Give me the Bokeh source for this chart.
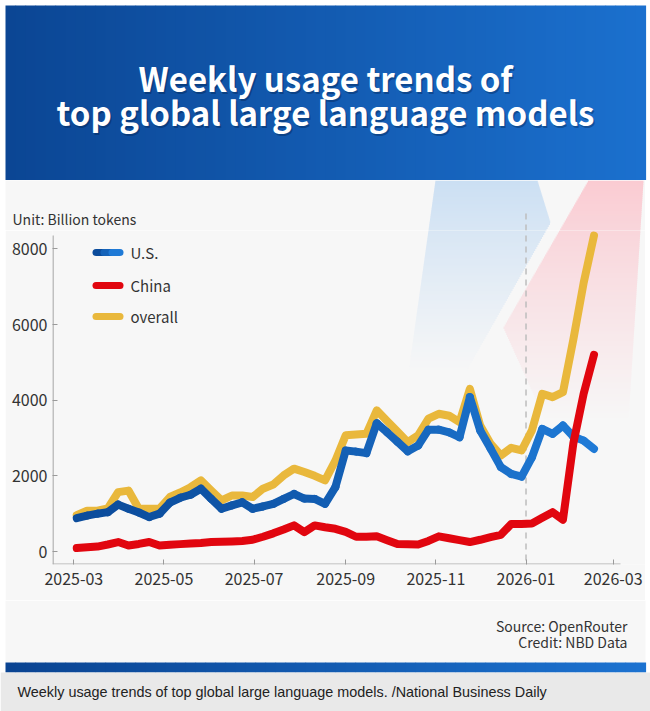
import numpy as np
import pandas as pd
from bokeh.plotting import figure
from bokeh.layouts import column
from bokeh.models import Range1d, FixedTicker, DatetimeTickFormatter
from bokeh.core.properties import value
from bokeh.embed import file_html
from bokeh.resources import INLINE

# ---------------- data (billion tokens per week) ----------------
week_start = "2025-03-03"
n_weeks = 51
us = [880, 950, 1000, 1040, 1240, 1130, 1030, 910, 1000, 1290,
      1420, 1500, 1660, 1390, 1130, 1220, 1300, 1130, 1190, 1260,
      1390, 1520, 1400, 1390, 1260, 1700, 2670, 2640, 2600, 3390,
      3150, 2900, 2650, 2800, 3220, 3220, 3150, 3020, 4080, 3200,
      2720, 2230, 2050, 1980, 2490, 3240, 3110, 3330, 3040, 2930, 2710]
china = [90, 110, 130, 185, 250, 160, 200, 250, 160, 180,
         195, 210, 225, 250, 255, 265, 280, 310, 390, 480,
         580, 690, 510, 690, 640, 600, 520, 390, 390, 400,
         300, 200, 190, 185, 280, 400, 350, 300, 250, 310,
         380, 440, 730, 730, 740, 890, 1040, 840, 2850, 4170, 5200]
overall = [960, 1080, 1080, 1140, 1570, 1610, 1130, 1130, 1130, 1440,
           1560, 1700, 1880, 1610, 1350, 1480, 1480, 1440, 1660, 1770,
           2010, 2190, 2100, 2000, 1880, 2400, 3070, 3090, 3110, 3730,
           3450, 3170, 2890, 3070, 3510, 3640, 3590, 3420, 4300, 3330,
           2850, 2540, 2740, 2670, 3200, 4170, 4080, 4210, 5600, 7100, 8350]
series_names = ["U.S.", "China", "overall"]
y_ticks = [0, 2000, 4000, 6000, 8000]
x_tick_labels = ["2025-03", "2025-05", "2025-07", "2025-09", "2025-11", "2026-01", "2026-03"]
marker_date = "2026-01-01"

title_lines = ["Weekly usage trends of", "top global large language models"]
unit_text = "Unit: Billion tokens"
source_text = "Source: OpenRouter"
credit_text = "Credit: NBD Data"
caption_text = "Weekly usage trends of top global large language models. /National Business Daily"

dates = pd.date_range(week_start, periods=n_weeks, freq="7D")

# ---------------- styling / layout ----------------
FONT = "Noto Sans CJK SC"
BG = "#f7f7f7"
BG_RGB = (247, 247, 247)
YELLOW = "#e9b83c"
RED = "#e1060f"
BLUE_DARK = (11, 76, 156)
BLUE_LIGHT = (31, 122, 214)


def mix(c1, c2, t):
    t = max(0.0, min(1.0, t))
    return "#%02x%02x%02x" % tuple(int(round(a + (b - a) * t)) for a, b in zip(c1, c2))


def ms(ts):
    return (pd.Timestamp(ts) - pd.Timestamp("1970-01-01")).total_seconds() * 1000.0


# page-pixel geometry
STRIP_T = 180           # top of the chart panel
FR_L, FR_R, FR_T, FR_B = 52, 645, 230, 564   # plot frame
T0, X_T0 = pd.Timestamp("2025-03-01"), 73.3
PX_PER_DAY = (612.7 - 73.3) / 365.0
Y0_PX, PX_PER_UNIT = 551.0, 37.83 / 1000.0


def px_to_ms(px):
    return ms(T0 + pd.Timedelta(days=(px - X_T0) / PX_PER_DAY))


x_start, x_end = px_to_ms(FR_L), px_to_ms(FR_R)
y_start = -(FR_B - Y0_PX) / PX_PER_UNIT
y_end = (Y0_PX - FR_T) / PX_PER_UNIT


def plain_fig(w, h, xr, yr, bg, **kw):
    f = figure(width=w, height=h, x_range=Range1d(*xr), y_range=Range1d(*yr),
               x_axis_location=None, y_axis_location=None, output_backend="svg",
               toolbar_location=None, min_border=0, outline_line_color=None,
               background_fill_color=bg, border_fill_color=bg, frame_align=False, **kw)
    f.grid.visible = False
    return f


# ---------------- header ----------------
h = plain_fig(650, 180, (0, 650), (180, 0), "white")
nh = 64
hx = np.linspace(5, 645, nh + 1)
h.quad(left=hx[:-1], right=hx[1:] + 0.6, top=5, bottom=180,
       fill_color=[mix((11, 70, 148), (27, 112, 206), i / (nh - 1)) for i in range(nh)],
       line_color=None)
for dy, txt in zip([77, 111], title_lines):
    h.text(x=[326.5], y=[dy + 2], text=[txt], text_font=value(FONT), text_font_style="bold",
           text_font_size="33px", text_color="#001a40", text_alpha=0.35,
           text_align="center", text_baseline="middle")
    h.text(x=[325], y=[dy], text=[txt], text_font=value(FONT), text_font_style="bold",
           text_font_size="33px", text_color="white", text_align="center", text_baseline="middle")


# ---------------- decorative faded shapes (page pixel coords) ----------------
def span(poly, y):
    xs = []
    n = len(poly)
    for i in range(n):
        (x1, y1), (x2, y2) = poly[i], poly[(i + 1) % n]
        if min(y1, y2) <= y <= max(y1, y2):
            if y1 == y2:
                xs += [x1, x2]
            else:
                xs.append(x1 + (y - y1) * (x2 - x1) / (y2 - y1))
    return min(xs), max(xs)


SHAPES = [([(435, 180), (537, 180), (550, 222), (465, 372), (408, 372)], (203, 223, 243), 180, 372),
          ([(588, 180), (643, 180), (628, 420), (545, 420), (503, 327)], (250, 203, 210), 180, 420)]


def draw_shapes(fig, **rn):
    for poly, c_top, y_top, y_bot in SHAPES:
        L, R, T, B, C = [], [], [], [], []
        step = 2.0
        for y in np.arange(y_top, y_bot, step):
            l, r = span(poly, y + step / 2)
            L.append(l); R.append(r); T.append(y); B.append(y + step + 0.4)
            C.append(mix(c_top, BG_RGB, ((y - y_top) / (y_bot - y_top)) ** 0.9))
        fig.quad(left=L, right=R, top=T, bottom=B, fill_color=C, line_color=None, **rn)


# ---------------- top strip of chart panel (unit label) ----------------
s = plain_fig(640, FR_T - STRIP_T, (5, 645), (FR_T, STRIP_T), BG, margin=(0, 5, 0, 5))
s.extra_x_ranges = {"dt": Range1d(px_to_ms(5), px_to_ms(645))}
draw_shapes(s)
md = pd.Timestamp(marker_date)
s.segment(x0=[md], y0=[213], x1=[md], y1=[564], line_color="#bdbdbd", line_width=1.5,
          line_dash="6 5", x_range_name="dt")
s.text(x=[12], y=[218], text=[unit_text], text_font=value(FONT), text_font_size="14px",
       text_color="#333333", text_baseline="middle")

# ---------------- main chart ----------------
p = figure(width=640, height=600 - FR_T, x_axis_type="datetime",
           x_range=Range1d(x_start, x_end), y_range=Range1d(y_start, y_end),
           output_backend="svg", toolbar_location=None,
           min_border_left=FR_L - 5, min_border_right=0, min_border_top=0,
           min_border_bottom=600 - FR_B,
           background_fill_color=BG, border_fill_color=BG, outline_line_color=None,
           margin=(0, 5, 0, 5), frame_align=False)
p.grid.visible = False
p.extra_x_ranges = {"px": Range1d(FR_L, FR_R)}
p.extra_y_ranges = {"py": Range1d(FR_B, FR_T)}

draw_shapes(p, x_range_name="px", y_range_name="py")

# axis lines
p.segment(x0=[52.5], y0=[235], x1=[52.5], y1=[564], line_color="#9a9a9a", line_width=1.2,
          x_range_name="px", y_range_name="py")
p.segment(x0=[52], y0=[563.5], x1=[620], y1=[563.5], line_color="#b0b0b0", line_width=1.2,
          x_range_name="px", y_range_name="py")

# dashed marker at 2026-01 (continues from strip)
p.segment(x0=[md], y0=[213], x1=[md], y1=[564], line_color="#bdbdbd", line_width=1.5,
          line_dash="6 5", y_range_name="py")

# series
p.line(dates, overall, line_color=YELLOW, line_width=8, line_join="round", line_cap="round")
us_cols = [mix(BLUE_DARK, BLUE_LIGHT, (i / (n_weeks - 2)) ** 1.3) for i in range(n_weeks - 1)]
p.segment(x0=dates[:-1], y0=us[:-1], x1=dates[1:], y1=us[1:], line_color=us_cols,
          line_width=8, line_cap="round")
p.line(dates, china, line_color=RED, line_width=8, line_join="round", line_cap="round")

# legend (drawn)
leg_y = [252, 285, 316]
p.segment(x0=[95.5, 103.5, 111.5], y0=[leg_y[0]] * 3, x1=[103.5, 111.5, 119.5], y1=[leg_y[0]] * 3,
          line_color=[mix(BLUE_DARK, BLUE_LIGHT, t) for t in (0.0, 0.5, 1.0)], line_width=7,
          line_cap="round", x_range_name="px", y_range_name="py")
p.segment(x0=[95.5, 95.5], y0=leg_y[1:], x1=[119.5, 119.5], y1=leg_y[1:],
          line_color=[RED, YELLOW], line_width=7, line_cap="round",
          x_range_name="px", y_range_name="py")
p.text(x=[130] * 3, y=leg_y, text=series_names, text_font=value(FONT), text_font_size="15px",
       text_color="#333333", text_baseline="middle", x_range_name="px", y_range_name="py")

# axes
p.xaxis.ticker = FixedTicker(ticks=[ms(t + "-01") for t in x_tick_labels])
fmt = "%Y-%m"
p.xaxis.formatter = DatetimeTickFormatter(days=fmt, months=fmt, years=fmt, hours=fmt,
                                          hourmin=fmt, minutes=fmt, minsec=fmt, seconds=fmt,
                                          milliseconds=fmt, microseconds=fmt)
p.yaxis.ticker = FixedTicker(ticks=y_ticks)
for ax in (p.xaxis[0], p.yaxis[0]):
    ax.axis_line_color = None
    ax.major_tick_in = 5
    ax.major_tick_out = 0
    ax.minor_tick_line_color = None
    ax.major_tick_line_color = "#9a9a9a"
    ax.major_label_text_font = FONT
    ax.major_label_text_font_size = "16px"
    ax.major_label_text_color = "#333333"
p.xaxis.major_label_standoff = 8
p.yaxis.major_label_standoff = 5

# ---------------- footer ----------------
f = plain_fig(650, 111, (0, 650), (711, 600), "white")
f.quad(left=5, right=645, top=600, bottom=662, fill_color=BG, line_color=None)
nf = 64
fx = np.linspace(5, 645, nf + 1)
f.quad(left=fx[:-1], right=fx[1:] + 0.6, top=662, bottom=672,
       fill_color=[mix((10, 68, 146), (28, 114, 208), i / (nf - 1)) for i in range(nf)],
       line_color=None)
f.quad(left=0, right=650, top=672, bottom=711, fill_color="#e9e9e9", line_color=None)
f.text(x=[627, 627], y=[625, 641], text=[source_text, credit_text], text_font=value(FONT),
       text_font_size="14px", text_color="#333333", text_align="right", text_baseline="middle")
f.text(x=[17], y=[691], text=[caption_text], text_font=value("Liberation Sans"),
       text_font_size="14.4px", text_color="#222222", text_baseline="middle")

layout = column(h, s, p, f)
open("out.html", "w").write(file_html(layout, INLINE))
